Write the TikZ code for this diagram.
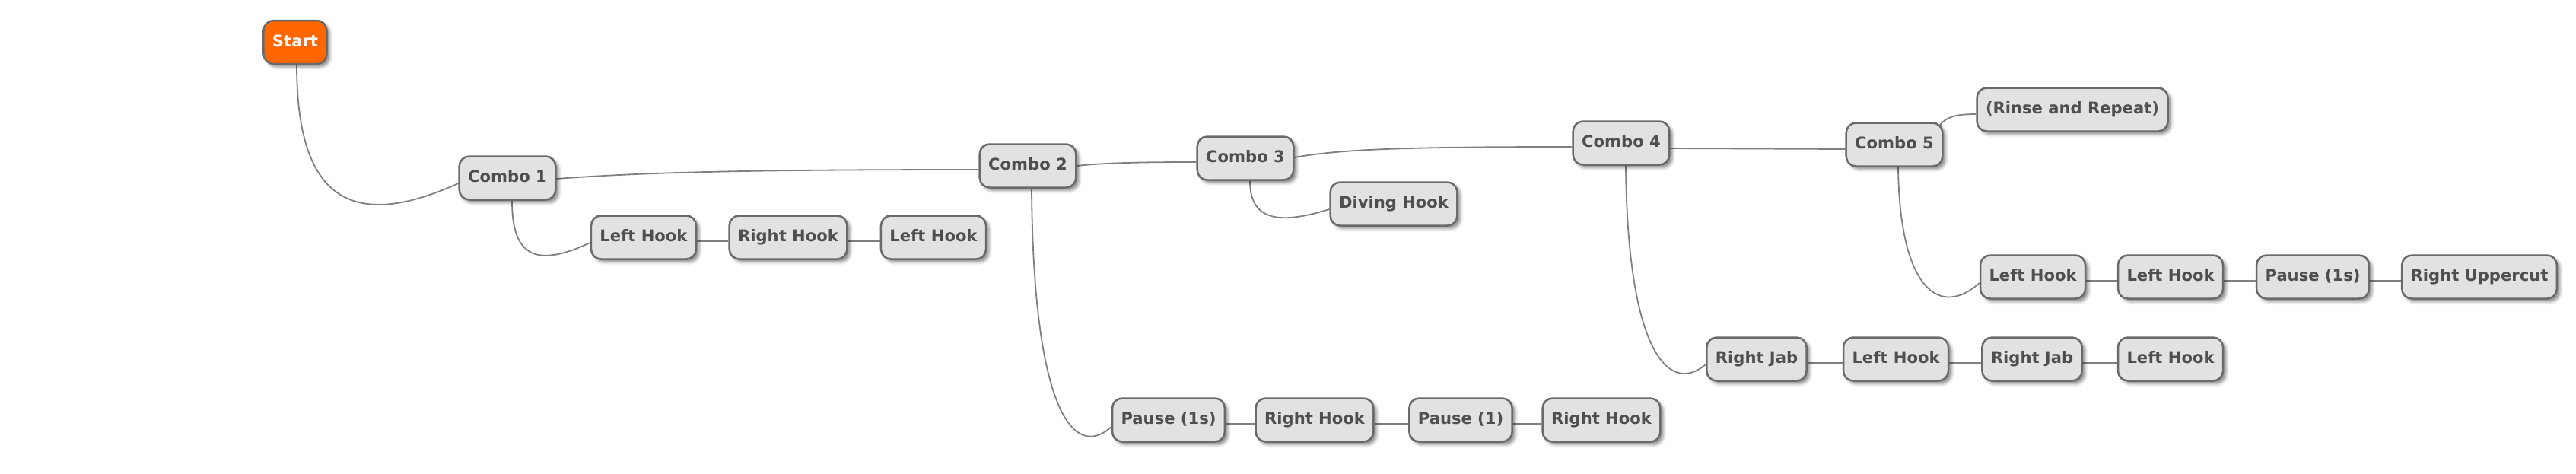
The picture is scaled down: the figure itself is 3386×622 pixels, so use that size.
\documentclass[tikz,border=0pt]{standalone}
\usepackage{fontspec}
\setmainfont{DejaVu Sans}
\usetikzlibrary{calc,backgrounds,shadows.blur}
\definecolor{boxfill}{HTML}{E2E2E2}
\definecolor{boxline}{HTML}{6A6A6A}
\definecolor{wire}{HTML}{808080}
\definecolor{txt}{HTML}{4F4F4F}
\definecolor{orange}{HTML}{FF6600}
\tikzset{
  mmbox/.style={draw=boxline, line width=2.5pt, fill=boxfill, rounded corners=13pt,
    minimum height=57pt, inner xsep=11.5pt, inner ysep=0pt, text=txt,
    font=\fontsize{21.1}{25}\selectfont\bfseries, text height=15.5pt, text depth=4pt,
    blur shadow={shadow xshift=4pt, shadow yshift=-4pt, shadow blur radius=4pt, shadow opacity=45}},
  rootbox/.style={mmbox, fill=orange, text=white!96!black},
  wireline/.style={draw=wire, line width=1.8pt}
}
\begin{document}
\begin{tikzpicture}[x=1pt,y=-1pt]
\useasboundingbox (0,0) rectangle (3386,622);
\node[rootbox] (start) at (388,55.5) {Start};
\node[mmbox] (c1) at (667,234) {Combo 1};
\node[mmbox] (c2) at (1351,218) {Combo 2};
\node[mmbox] (c3) at (1637,208) {Combo 3};
\node[mmbox] (c4) at (2131,188) {Combo 4};
\node[mmbox] (c5) at (2490,190) {Combo 5};
\node[mmbox] (rinse) at (2724,144) {(Rinse and Repeat)};
\node[mmbox] (dh) at (1832,268) {Diving Hook};
\node[mmbox] (c1a) at (846,312) {Left Hook};
\node[mmbox] (c1b) at (1036,312) {Right Hook};
\node[mmbox] (c1c) at (1227,312) {Left Hook};
\node[mmbox] (c2a) at (1536,552) {Pause (1s)};
\node[mmbox] (c2b) at (1728,552) {Right Hook};
\node[mmbox] (c2c) at (1920,552) {Pause (1)};
\node[mmbox] (c2d) at (2105,552) {Right Hook};
\node[mmbox] (c4a) at (2309,472) {Right Jab};
\node[mmbox] (c4b) at (2492,472) {Left Hook};
\node[mmbox] (c4c) at (2671,472) {Right Jab};
\node[mmbox] (c4d) at (2853,472) {Left Hook};
\node[mmbox] (c5a) at (2672,364) {Left Hook};
\node[mmbox] (c5b) at (2853,364) {Left Hook};
\node[mmbox] (c5c) at (3040,364) {Pause (1s)};
\node[mmbox] (c5d) at (3259,364) {Right Uppercut};
\begin{scope}[on background layer]
\draw[wireline] ($(start.south)+(2,0)$) .. controls +(0,166) and +(-150,68) .. ($(c1.west)+(0,7)$);
\draw[wireline] ($(c1.south)+(6,0)$) .. controls +(0,70) and +(-75,35) .. ($(c1a.west)+(0,7)$);
\draw[wireline] ($(c2.south)+(5,0)$) .. controls +(2,290) and +(-50,45) .. ($(c2a.west)+(0,9)$);
\draw[wireline] ($(c3.south)+(6,0)$) .. controls +(0,50) and +(-70,22) .. ($(dh.west)+(0,7)$);
\draw[wireline] ($(c4.south)+(6,0)$) .. controls +(2,240) and +(-50,42) .. ($(c4a.west)+(0,7)$);
\draw[wireline] ($(c5.south)+(5,0)$) .. controls +(2,165) and +(-50,45) .. ($(c5a.west)+(0,8)$);
\draw[wireline] ($(c5.north east)+(-5,5)$) .. controls +(8,-12) and +(-25,0) .. ($(rinse.west)+(0,6)$);
\draw[wireline] ($(c1.east)+(0,1)$) .. controls +(120,-9) and +(-290,0) .. ($(c2.west)+(0,5)$);
\draw[wireline] (c2.east) .. controls +(36,-4) and +(-73,0) .. ($(c3.west)+(0,5)$);
\draw[wireline] ($(c3.east)+(0,-1)$) .. controls +(60,-11) and +(-217,0) .. ($(c4.west)+(0,5)$);
\draw[wireline] ($(c4.east)+(0,7)$) -- ($(c5.west)+(0,6)$);
\foreach \a/\b in {c1a/c1b,c1b/c1c,c2a/c2b,c2b/c2c,c2c/c2d,c4a/c4b,c4b/c4c,c4c/c4d,c5a/c5b,c5b/c5c,c5c/c5d}
  \draw[wireline] ($(\a.east)+(0,5)$) -- ($(\b.west)+(0,5)$);
\end{scope}
\end{tikzpicture}
\end{document}
